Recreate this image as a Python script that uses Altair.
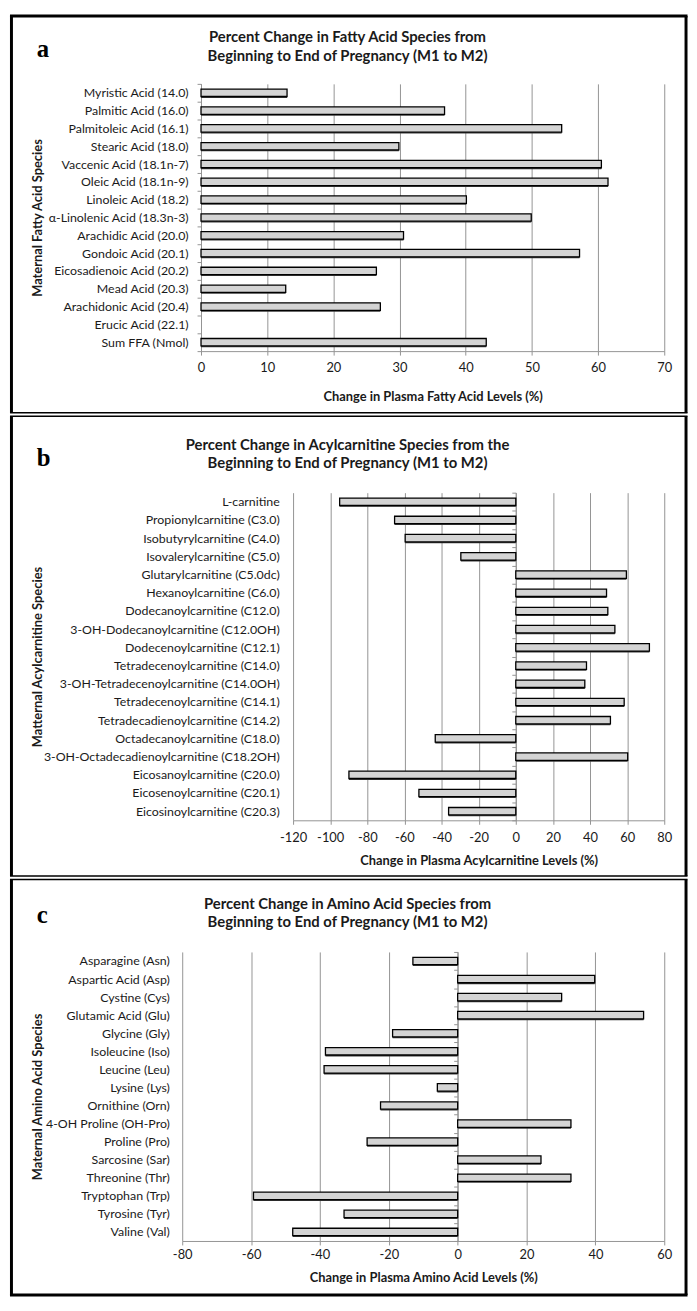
import altair as alt
import pandas as pd

# ---------------- data ----------------
fa_names = ["Myristic Acid (14.0)", "Palmitic Acid (16.0)", "Palmitoleic Acid (16.1)",
            "Stearic Acid (18.0)", "Vaccenic Acid (18.1n-7)", "Oleic Acid (18.1n-9)",
            "Linoleic Acid (18.2)", "α-Linolenic Acid (18.3n-3)", "Arachidic Acid (20.0)",
            "Gondoic Acid (20.1)", "Eicosadienoic Acid (20.2)", "Mead Acid (20.3)",
            "Arachidonic Acid (20.4)", "Erucic Acid (22.1)", "Sum FFA (Nmol)"]
fa_values = [13.0, 36.8, 54.5, 29.9, 60.5, 61.5, 40.1, 49.9, 30.6, 57.2, 26.5, 12.8, 27.1, None, 43.1]

ac_names = ["L-carnitine", "Propionylcarnitine (C3.0)", "Isobutyrylcarnitine (C4.0)",
            "Isovalerylcarnitine (C5.0)", "Glutarylcarnitine (C5.0dc)", "Hexanoylcarnitine (C6.0)",
            "Dodecanoylcarnitine (C12.0)", "3-OH-Dodecanoylcarnitine (C12.0OH)",
            "Dodecenoylcarnitine (C12.1)", "Tetradecenoylcarnitine (C14.0)",
            "3-OH-Tetradecenoylcarnitine (C14.0OH)", "Tetradecenoylcarnitine (C14.1)",
            "Tetradecadienoylcarnitine (C14.2)", "Octadecanoylcarnitine (C18.0)",
            "3-OH-Octadecadienoylcarnitine (C18.2OH)", "Eicosanoylcarnitine (C20.0)",
            "Eicosenoylcarnitine (C20.1)", "Eicosinoylcarnitine (C20.3)"]
ac_values = [-94.9, -65.3, -59.6, -29.6, 59.6, 48.9, 49.6, 53.4, 72.0, 38.1, 37.2, 58.4,
             51.0, -43.4, 60.3, -89.9, -52.2, -36.2]

aa_names = ["Asparagine (Asn)", "Aspartic Acid (Asp)", "Cystine (Cys)", "Glutamic Acid (Glu)",
            "Glycine (Gly)", "Isoleucine (Iso)", "Leucine (Leu)", "Lysine (Lys)",
            "Ornithine (Orn)", "4-OH Proline (OH-Pro)", "Proline (Pro)", "Sarcosine (Sar)",
            "Threonine (Thr)", "Tryptophan (Trp)", "Tyrosine (Tyr)", "Valine (Val)"]
aa_values = [-13.0, 39.8, 30.2, 54.0, -18.9, -38.4, -38.8, -5.9, -22.4, 32.9, -26.3, 24.2,
             32.9, -59.3, -33.0, -47.9]

fa_ticks = [0, 10, 20, 30, 40, 50, 60, 70]
ac_ticks = [-120, -100, -80, -60, -40, -20, 0, 20, 40, 60, 80]
aa_ticks = [-80, -60, -40, -20, 0, 20, 40, 60]

panel_letters = ["a", "b", "c"]
panel_titles = [
    ["Percent Change in Fatty Acid Species from", "Beginning to End of Pregnancy (M1 to M2)"],
    ["Percent Change in Acylcarnitine Species from the", "Beginning to End of Pregnancy (M1 to M2)"],
    ["Percent Change in Amino Acid Species from", "Beginning to End of Pregnancy (M1 to M2)"],
]
x_titles = ["Change in Plasma Fatty Acid Levels (%)",
            "Change in Plasma Acylcarnitine Levels (%)",
            "Change in Plasma Amino Acid Levels (%)"]
y_titles = ["Maternal Fatty Acid Species", "Matternal Acylcarnitine Species",
            "Maternal Amino Acid Species"]

# ---------------- style / layout ----------------
FONT = "Lato"
GRID = "#949494"
TEXT = "#1a1a1a"
BAR_FILL = "#d4d4d4"
BAR_H = 7.5

PLOT_LEFT = 182.0
PLOT_RIGHT = 669.0
W = PLOT_RIGHT - PLOT_LEFT
BORDER_L = 9.5
BORDER_R = 691.0
TITLE_CX = 349.0
LETTER_X = 35.0
YTITLE_X = 36.0

layouts = [
    dict(top=78, height=270, data_left=201, gap=13, zero_axis=False,
         bt=9.5, btw=3, bb=410.25, bbw=1.5, ty=(36, 55), ly=51, xpad=7, xty=50),
    dict(top=489, height=331, data_left=294, gap=14, zero_axis=True,
         bt=411.75, btw=1.5, bb=876.25, bbw=1.5, ty=(446, 464), ly=462, xpad=7, xty=45),
    dict(top=951, height=292, data_left=182, gap=13, zero_axis=True,
         bt=877.75, btw=1.5, bb=1297.5, bbw=3, ty=(908, 926), ly=922, xpad=4, xty=41),
]

one = pd.DataFrame({"k": [0]})


def decor(lay, letter, titles):
    top = lay["top"]
    xl = BORDER_L - PLOT_LEFT
    xr = BORDER_R - PLOT_LEFT
    yt = lay["bt"] - top
    yb = lay["bb"] - top
    out = []
    out.append(alt.Chart(one).mark_rule(color="black", strokeWidth=lay["btw"]).encode(
        x=alt.value(xl - 1.5), x2=alt.value(xr + 1.5), y=alt.value(yt)))
    out.append(alt.Chart(one).mark_rule(color="black", strokeWidth=lay["bbw"]).encode(
        x=alt.value(xl - 1.5), x2=alt.value(xr + 1.5), y=alt.value(yb)))
    out.append(alt.Chart(one).mark_rule(color="black", strokeWidth=3).encode(
        x=alt.value(xl), y=alt.value(yt), y2=alt.value(yb)))
    out.append(alt.Chart(one).mark_rule(color="black", strokeWidth=3).encode(
        x=alt.value(xr), y=alt.value(yt), y2=alt.value(yb)))
    for t, ty in zip(titles, lay["ty"]):
        out.append(alt.Chart(one).mark_text(font=FONT, fontSize=15, fontWeight="bold",
                                            color=TEXT, align="center", baseline="alphabetic").encode(
            x=alt.value(TITLE_CX - PLOT_LEFT), y=alt.value(ty - top), text=alt.value(t)))
    out.append(alt.Chart(one).mark_text(font="Liberation Serif", fontSize=25, fontWeight="bold",
                                        color="black", align="left", baseline="alphabetic").encode(
        x=alt.value(LETTER_X - PLOT_LEFT), y=alt.value(lay["ly"] - top), text=alt.value(letter)))
    return out


def panel(names, values, ticks, lay, letter, titles, xt, ytt):
    df = pd.DataFrame({"species": names, "change": values})
    lo, hi = ticks[0], ticks[-1]
    r0 = lay["data_left"] - PLOT_LEFT
    r1 = W
    zero_rel = r0 + (0 - lo) / (hi - lo) * (r1 - r0)
    xscale = alt.Scale(domain=[lo, hi], range=[r0, r1], nice=False, zero=False)
    yscale = alt.Scale(paddingInner=0, paddingOuter=0)
    xaxis = alt.Axis(values=ticks, title=xt, grid=True, gridColor=GRID, gridWidth=1,
                     domainColor=GRID, tickColor=GRID, tickSize=4, labelPadding=lay["xpad"],
                     labelOverlap=False, labelFlush=False, labelFontSize=13,
                     labelExpr="'' + datum.value", titleY=lay["xty"], titleBaseline="alphabetic",
                     titleFontWeight="bold", titleFontSize=13)
    on_axis = not lay["zero_axis"]
    label_axis = alt.Axis(title=ytt, orient="left", offset=-r0, labelLimit=400,
                          labelFontSize=12.5,
                          labelPadding=lay["gap"] - (4 if on_axis else 0),
                          domain=on_axis, domainColor=GRID, ticks=on_axis, tickColor=GRID,
                          tickSize=4 if on_axis else 0, tickBand="extent", grid=False,
                          titleX=YTITLE_X - lay["data_left"], titleY=lay["height"] / 2,
                          titleBaseline="middle", titleAngle=270, titleFontWeight="bold",
                          titleFontSize=13)
    base = alt.Chart(df)
    shadow = base.mark_bar(size=BAR_H, color="#3a3a3a", yOffset=1.4).encode(
        x=alt.X("change:Q", scale=xscale, axis=xaxis),
        x2=alt.datum(0),
        y=alt.Y("species:N", sort=names, scale=yscale, axis=label_axis))
    if lay["zero_axis"]:
        main_y_axis = alt.Axis(orient="left", offset=-zero_rel, labels=False, title=None,
                               domain=True, domainColor=GRID, ticks=True, tickColor=GRID,
                               tickSize=4, tickBand="extent", grid=False)
    else:
        main_y_axis = label_axis
    bars = base.mark_bar(size=BAR_H, color=BAR_FILL, stroke="black", strokeWidth=1.3).encode(
        x=alt.X("change:Q", scale=xscale, axis=xaxis),
        x2=alt.datum(0),
        y=alt.Y("species:N", sort=names, scale=yscale, axis=main_y_axis))
    ch = alt.layer(shadow, bars, *decor(lay, letter, titles)).properties(
        width=W, height=lay["height"])
    if lay["zero_axis"]:
        ch = ch.resolve_axis(y="independent")
    return ch


pa = panel(fa_names, fa_values, fa_ticks, layouts[0], panel_letters[0], panel_titles[0], x_titles[0], y_titles[0])
pb = panel(ac_names, ac_values, ac_ticks, layouts[1], panel_letters[1], panel_titles[1], x_titles[1], y_titles[1])
pc = panel(aa_names, aa_values, aa_ticks, layouts[2], panel_letters[2], panel_titles[2], x_titles[2], y_titles[2])

chart = alt.vconcat(pa, pb, pc, spacing=0).properties(padding=0).configure_view(
    stroke=None).configure_axis(
    labelFont=FONT, titleFont=FONT, labelFontSize=12, titleFontSize=12,
    labelColor=TEXT, titleColor=TEXT)

chart.save("out.html", embed_options={"renderer": "svg", "actions": False})
